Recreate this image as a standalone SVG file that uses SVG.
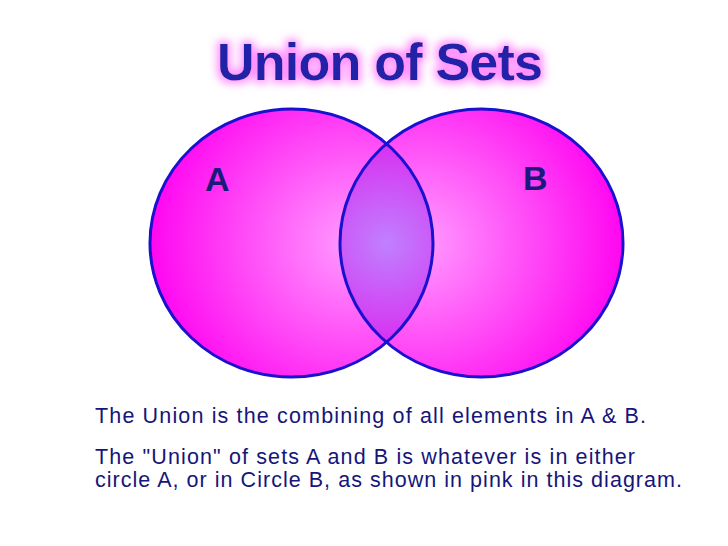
<svg xmlns="http://www.w3.org/2000/svg" width="728" height="546" viewBox="0 0 728 546">
<style>
.set{stroke:#1a10d0;stroke-width:3}
.lbl{font-family:"Liberation Sans",Arial,sans-serif;font-weight:bold;font-size:34px;fill:#1a1a7a}
.body{font-family:"Liberation Sans",Arial,sans-serif;font-size:21.5px;fill:#15157a}
</style>
<defs>
<radialGradient id="gA" cx="0.72" cy="0.5" r="0.75">
<stop offset="0" stop-color="#ff9cff"/><stop offset="1" stop-color="#ff00f0"/>
</radialGradient>
<radialGradient id="gB" cx="0.28" cy="0.5" r="0.75">
<stop offset="0" stop-color="#ff9cff"/><stop offset="1" stop-color="#ff00f0"/>
</radialGradient>
<radialGradient id="gL" gradientUnits="userSpaceOnUse" cx="386.5" cy="243" r="100">
<stop offset="0" stop-color="#c080ff"/><stop offset="1" stop-color="#d830f0"/>
</radialGradient>
<clipPath id="cA"><ellipse cx="291.5" cy="243" rx="141.5" ry="134"/></clipPath>
<filter id="glow" x="-20%" y="-40%" width="140%" height="180%">
<feMorphology in="SourceAlpha" operator="dilate" radius="3" result="d"/>
<feGaussianBlur in="d" stdDeviation="4" result="b"/>
<feFlood flood-color="#ff90ff"/>
<feComposite in2="b" operator="in" result="g"/>
<feMerge><feMergeNode in="g"/><feMergeNode in="SourceGraphic"/></feMerge>
</filter>
</defs>
<rect width="728" height="546" fill="#fff"/>
<g id="title"><text x="380" y="80" text-anchor="middle" textLength="326" font-family="'Liberation Sans',Arial,sans-serif" font-weight="bold" font-size="52" fill="#2424a8" filter="url(#glow)">Union of Sets</text></g>
<g id="setA"><ellipse cx="291.5" cy="243" rx="141.5" ry="134" fill="url(#gA)"/></g>
<g id="setB"><ellipse cx="481.5" cy="243" rx="141.5" ry="134" fill="url(#gB)"/></g>
<g id="intersection"><ellipse cx="481.5" cy="243" rx="141.5" ry="134" fill="url(#gL)" clip-path="url(#cA)"/></g>
<g id="outlines" fill="none">
<ellipse class="set" cx="291.5" cy="243" rx="141.5" ry="134"/>
<ellipse class="set" cx="481.5" cy="243" rx="141.5" ry="134"/>
</g>
<g id="labels">
<text class="lbl" x="205" y="191">A</text>
<text class="lbl" x="523" y="190">B</text>
</g>
<g id="text">
<text class="body" x="95" y="423" textLength="551">The Union is the combining of all elements in A &amp; B.</text>
<text class="body" x="95" y="464" textLength="540">The "Union" of sets A and B is whatever is in either</text>
<text class="body" x="95" y="487" textLength="587">circle A, or in Circle B, as shown in pink in this diagram.</text>
</g>
</svg>
